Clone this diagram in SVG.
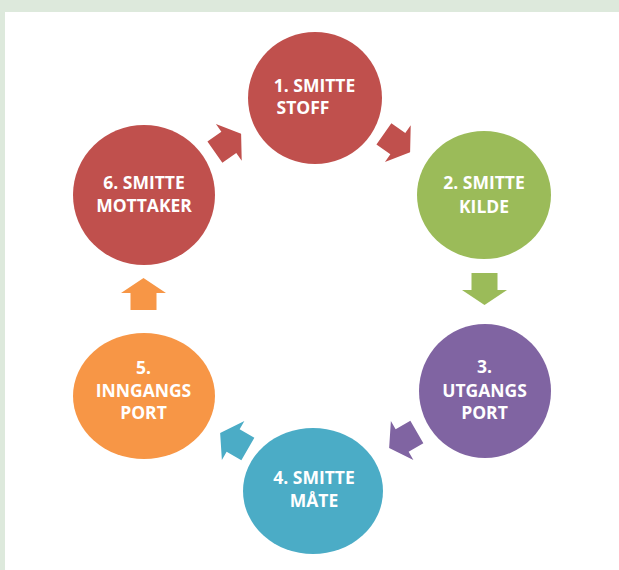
<svg xmlns="http://www.w3.org/2000/svg" width="619" height="570" viewBox="0 0 619 570">
<defs>
<style>
.lbl{font-family:"Open Sans","Noto Sans","Liberation Sans",sans-serif;font-weight:bold;font-size:17.5px;fill:#ffffff;text-anchor:middle}
</style>
<polygon id="arr" points="-16,-13 1,-13 1,-22.5 16,0 1,22.5 1,13 -16,13"/>
</defs>
<rect x="0" y="0" width="619" height="570" fill="#dde9dc"/>
<rect x="5" y="12" width="614" height="558" fill="#ffffff"/>
<g id="connectors">
<use href="#arr" fill="#c0504d" transform="translate(397,143) rotate(35)"/>
<use href="#arr" fill="#9bbb59" transform="translate(484.5,289) rotate(90)"/>
<use href="#arr" fill="#8064a2" transform="translate(403,440) rotate(150)"/>
<use href="#arr" fill="#4bacc6" transform="translate(234,441) rotate(-150)"/>
<use href="#arr" fill="#f79646" transform="translate(143.5,294) rotate(-90)"/>
<use href="#arr" fill="#c0504d" transform="translate(228,143) rotate(-35)"/>
</g>
<g id="n1">
<ellipse cx="315" cy="98" rx="67" ry="66" fill="#c0504d"/>
<text class="lbl" x="314.5" y="92">1. SMITTE</text>
<text class="lbl" x="303" y="114">STOFF</text>
</g>
<g id="n2">
<ellipse cx="484" cy="195" rx="67" ry="64" fill="#9bbb59"/>
<text class="lbl" x="484" y="189">2. SMITTE</text>
<text class="lbl" x="484" y="213">KILDE</text>
</g>
<g id="n3">
<ellipse cx="485" cy="391" rx="66" ry="67" fill="#8064a2"/>
<text class="lbl" x="484.5" y="373">3.</text>
<text class="lbl" x="484.5" y="397">UTGANGS</text>
<text class="lbl" x="484.5" y="419">PORT</text>
</g>
<g id="n4">
<ellipse cx="313" cy="491" rx="70" ry="63" fill="#4bacc6"/>
<text class="lbl" x="314" y="484">4. SMITTE</text>
<text class="lbl" x="314" y="507">MÅTE</text>
</g>
<g id="n5">
<ellipse cx="144" cy="396" rx="71" ry="63" fill="#f79646"/>
<text class="lbl" x="143.5" y="374">5.</text>
<text class="lbl" x="143.5" y="397">INNGANGS</text>
<text class="lbl" x="143.5" y="419">PORT</text>
</g>
<g id="n6">
<ellipse cx="144" cy="195" rx="71" ry="70" fill="#c0504d"/>
<text class="lbl" x="144" y="189">6. SMITTE</text>
<text class="lbl" x="144" y="212">MOTTAKER</text>
</g>
</svg>
